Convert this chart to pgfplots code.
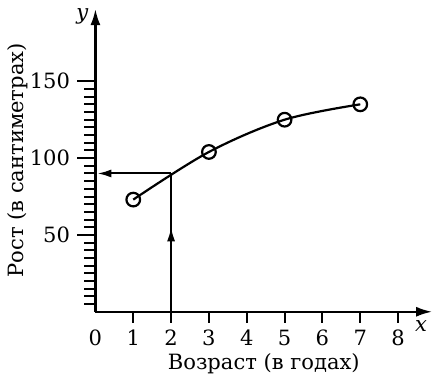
\documentclass[border=0pt]{standalone}
\usepackage{fontspec}
\setmainfont{DejaVu Serif}
\usepackage{pgfplots}
\pgfplotsset{compat=1.18}
\usetikzlibrary{arrows.meta}

\begin{document}
\fontsize{10.5}{12}\selectfont
\begin{tikzpicture}
  \begin{axis}[
      scale only axis,
      width=168pt, height=151pt,
      xmin=0, xmax=8.9, ymin=0, ymax=197,
      axis lines=left,
      axis line style={line width=1.1pt, -{Latex[length=8pt,width=5pt]}},
      tick align=outside,
      tick style={line width=1pt, black},
      major tick length=9pt,
      minor tick length=5.5pt,
      xtick={0,...,8},
      minor xtick={1,...,8},
      every major x tick/.append style={draw=none},
      ytick={50,100,150},
      minor ytick={5,10,...,150},
      tick label style={font=\fontsize{10.5}{12}\selectfont},
      xticklabel style={yshift=3.5pt},
      /pgf/number format/assume math mode=true,
      xlabel={Возраст (в годах)},
      ylabel={Рост (в сантиметрах)},
      xlabel shift=-3.5pt,
      ylabel shift=-6pt,
      clip=false,
    ]
    % стрелки: от возраста 2 к росту ~90
    \addplot[black, line width=1pt, -{Latex[length=7pt,width=4pt]}] coordinates {(2,0) (2,55)};
    \addplot[black, line width=1pt] coordinates {(2,50) (2,90)};
    \addplot[black, line width=1pt, -{Latex[length=7pt,width=4pt]}] coordinates {(2,90) (0.05,90)};
    % рост по годам
    \addplot[black, line width=1.1pt, smooth, tension=0.55,
      mark=o, mark size=3.4pt, mark options={fill=white, line width=1.1pt}]
      coordinates {(1,73) (3,104) (5,125) (7,135)};
    \node[font=\itshape] at (rel axis cs:0.967,-0.047) {x};
    \node[font=\itshape] at (rel axis cs:-0.039,0.975) {y};
    \path (rel axis cs:0,1.03);
  \end{axis}
\end{tikzpicture}
\end{document}
